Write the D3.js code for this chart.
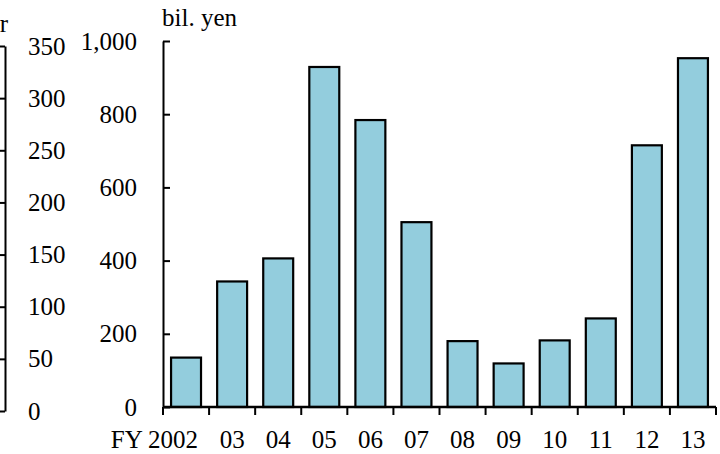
<!DOCTYPE html>
<html><head><meta charset="utf-8">
<script src="https://cdn.jsdelivr.net/npm/d3@7"></script>
<style>
html,body{margin:0;padding:0;background:#fff;}
svg{display:block;}
</style></head>
<body>
<svg id="c" width="720" height="454"></svg>
<script>
const categories = ["2002","03","04","05","06","07","08","09","10","11","12","13"];
const values = [135, 343, 406, 929, 784, 505, 180, 119, 182, 242, 715, 953];
const yTicks = [0, 200, 400, 600, 800, 1000];
const leftTicks = [0, 50, 100, 150, 200, 250, 300, 350];
const unitLabel = "bil. yen";
const leftUnitTail = "r";

const FONT = "Liberation Serif";
const fs = 25;
const svg = d3.select("#c");
function styleText(sel) {
  sel.attr("font-family", FONT).style("font-family", FONT).style("font-size", fs + "px").attr("fill", "#000");
}

// partial left chart axis (cut off)
const yl = d3.scaleLinear().domain([0, 350]).range([411, 46]);
const gl = svg.append("g").attr("transform", "translate(5,0)")
  .call(d3.axisRight(yl).tickValues(leftTicks).tickSizeInner(-6).tickSizeOuter(0).tickPadding(23));
gl.attr("font-family", FONT);
gl.select(".domain").attr("stroke", "#000").attr("stroke-width", 2);
gl.selectAll(".tick line").attr("stroke", "#000").attr("stroke-width", 2);
styleText(gl.selectAll(".tick text"));
styleText(svg.append("text").attr("x", 8).attr("y", 32).attr("text-anchor", "end").text(leftUnitTail));

// main chart
const x = d3.scaleBand().domain(categories).range([163, 716]).paddingInner(0.35).paddingOuter(0.175);
const y = d3.scaleLinear().domain([0, 1000]).range([407, 41]);

svg.append("g").selectAll("rect").data(values).join("rect")
  .attr("x", (d, i) => x(categories[i]))
  .attr("width", x.bandwidth())
  .attr("y", d => y(d))
  .attr("height", d => y(0) - y(d))
  .attr("fill", "#93CDDD")
  .attr("stroke", "#000")
  .attr("stroke-width", 2.2);

const gy = svg.append("g").attr("transform", "translate(163,0)")
  .call(d3.axisLeft(y).tickValues(yTicks).tickFormat(d3.format(",")).tickSizeInner(-7).tickSizeOuter(0).tickPadding(26));
gy.attr("font-family", FONT);
gy.select(".domain").attr("stroke", "#000").attr("stroke-width", 2);
gy.selectAll(".tick line").attr("stroke", "#000").attr("stroke-width", 2);
styleText(gy.selectAll(".tick text"));

// x axis with ticks at category boundaries
const gx = svg.append("g").attr("transform", "translate(0,407)")
  .call(d3.axisBottom(x).tickSize(0).tickPadding(23).tickFormat((d, i) => i === 0 ? "FY " + d : d));
gx.attr("font-family", FONT);
gx.select(".domain").remove();
styleText(gx.selectAll(".tick text"));
gx.selectAll(".tick text")
  .attr("text-anchor", (d, i) => i === 0 ? "end" : "middle")
  .attr("dx", (d, i) => i === 0 ? 12 : 0);
svg.append("line").attr("x1", x.range()[0]).attr("x2", x.range()[1]).attr("y1", y(0)).attr("y2", y(0))
  .attr("stroke", "#000").attr("stroke-width", 2.5);
const bounds = categories.map(c => x(c) - x.step() * x.paddingInner() / 2).concat([x.range()[1]]);
svg.append("g").selectAll("line").data(bounds).join("line")
  .attr("x1", d => d).attr("x2", d => d).attr("y1", y(0)).attr("y2", y(0) + 8)
  .attr("stroke", "#000").attr("stroke-width", 2);

styleText(svg.append("text").attr("x", 162).attr("y", 26).text(unitLabel));
</script>
</body></html>
